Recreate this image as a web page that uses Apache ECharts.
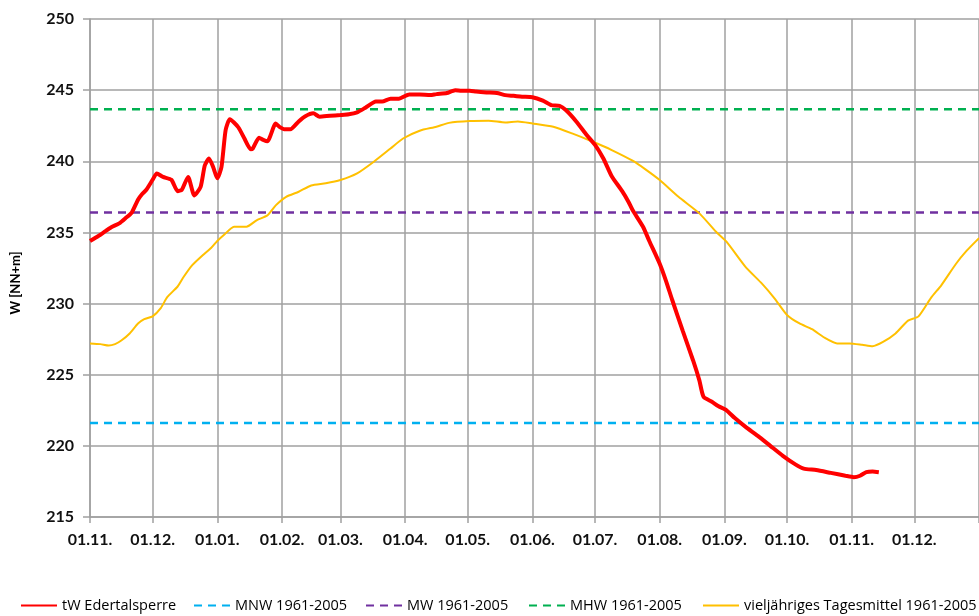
<!DOCTYPE html>
<html>
<head>
<meta charset="utf-8">
<script src="https://cdn.jsdelivr.net/npm/echarts@6/dist/echarts.min.js"></script>
<style>html,body{margin:0;padding:0;background:#fff}#c{width:979px;height:616px}</style>
</head>
<body>
<div id="c"></div>
<script>
// Month sequence on the x axis (starting 01.11.)
const monthNumbers = [11, 12, 1, 2, 3, 4, 5, 6, 7, 8, 9, 10, 11, 12];
const monthLengths = [30, 31, 31, 28, 31, 30, 31, 30, 31, 31, 30, 31, 30, 31];
const endLabel = "01.01.";

// y axis ticks
const yMin = 215, yMax = 250, yStep = 5;

// tW Edertalsperre: [day index from 01.11., value]
const redSeries = [
  [0,234.4],[4,234.75],[7,235.05],[10,235.35],[13.5,235.64],[17,236.0],[20,236.4],[23,237.3],[25,237.7],[27,238.0],
  [29.5,238.7],[32,239.15],[35,238.9],[39,238.7],[42,237.9],[44,238.0],[47,238.9],[50,237.6],[52.6,238.2],[55,239.7],
  [57,240.2],[59,239.6],[61.4,238.8],[63,239.6],[65.4,242.2],[67.3,242.95],[71,242.4],[74,241.6],[76.5,240.85],[78,240.9],
  [80.5,241.65],[83,241.5],[85,241.4],[88.5,242.65],[91,242.4],[93,242.25],[95.6,242.25],[99.6,242.8],[103,243.15],[107,243.37],
  [110,243.13],[115,243.2],[119.6,243.25],[124,243.3],[127.5,243.44],[132,243.77],[137,244.2],[140,244.2],[143.5,244.4],[148,244.4],
  [153,244.7],[158,244.7],[162.6,244.65],[166,244.72],[170.6,244.8],[175,245.0],[178,244.95],[181.7,244.96],[185,244.9],[189.7,244.84],
  [194.5,244.8],[199,244.65],[203,244.6],[207,244.54],[212,244.5],[216.8,244.26],[220.8,243.95],[224.8,243.9],[228,243.6],[232.8,242.8],
  [237.5,241.85],[241.5,241.15],[245.5,240.2],[250,238.95],[255,237.9],[258,237.16],[260,236.57],[264.6,235.4],[268,234.4],[272.6,232.8],
  [276,231.6],[279,230.25],[283.7,228.1],[288.5,226.0],[291.7,224.6],[294,223.45],[298,223.1],[301,222.8],[304.5,222.5],[309,221.95],
  [314,221.35],[320,220.7],[326,220.0],[332,219.3],[338,218.7],[342,218.4],[348,218.3],[355,218.1],[362,217.9],[366,217.8],
  [369,217.9],[372,218.15],[375,218.2],[378,218.15]
];

// vieljähriges Tagesmittel 1961-2005
const yellowSeries = [
  [0,227.2],[4.8,227.15],[8.6,227.05],[12,227.15],[15,227.4],[19,227.9],[23,228.6],[26,228.9],[30,229.1],[33.5,229.7],
  [37,230.45],[41.6,231.2],[45,231.9],[49,232.7],[54,233.4],[58,233.9],[61,234.4],[64,234.8],[68.5,235.4],[75,235.4],
  [80,235.87],[84.5,236.2],[89,236.9],[94,237.5],[100,237.86],[106,238.3],[113,238.45],[119.6,238.68],[127.5,239.15],[135.5,239.97],
  [143.5,240.9],[150,241.6],[158,242.15],[166,242.43],[172,242.7],[181.7,242.83],[191,242.85],[199,242.73],[205,242.8],[212,242.66],
  [221.6,242.43],[231,241.96],[240.7,241.37],[250,240.79],[260,240.04],[266,239.45],[272.6,238.68],[282,237.5],[291.7,236.34],[299.7,235.05],
  [304.5,234.35],[314,232.6],[322,231.4],[328.4,230.37],[334,229.2],[340,228.6],[346,228.2],[352,227.6],[358,227.2],[364,227.2],
  [370,227.1],[375,227.0],[380,227.3],[386,227.9],[392,228.8],[397,229.1],[403,230.4],[408,231.3],[414.5,232.8],[420,233.7],
  [426,234.6]
];

// Long-term characteristic levels
const mnwLevel = 221.6;
const mwLevel = 236.4;
const mhwLevel = 243.65;

const seriesNames = ["tW Edertalsperre", "MNW 1961-2005", "MW 1961-2005", "MHW 1961-2005", "vieljähriges Tagesmittel 1961-2005"];

// build categories (one per day)
const categories = [];
monthNumbers.forEach((m, i) => {
  const mm = (m < 10 ? "0" : "") + m;
  for (let d = 1; d <= monthLengths[i]; d++) {
    categories.push((d < 10 ? "0" : "") + d + "." + mm + ".");
  }
});
categories.push(endLabel);
const lastIdx = categories.length - 1;

const isMonthStart = (idx) => categories[idx].startsWith("01.");

const chart = echarts.init(document.getElementById('c'), null, {renderer: 'canvas'});
const font = 'Lato, "Open Sans", sans-serif';
const legendFont = '"Open Sans", Lato, sans-serif';

function levelLine(v) { return [[0, v], [lastIdx, v]]; }

const legendTop = 598;
function mkLegend(name, left, w) {
  return {
    data: [name], left: left, top: legendTop, itemWidth: w, itemHeight: 14, itemGap: 5,
    padding: 0,
    itemStyle: {opacity: 0},
    textStyle: {fontFamily: legendFont, fontSize: 14.5, color: '#000'}, selectedMode: false
  };
}

chart.setOption({
  animation: false,
  backgroundColor: '#fff',
  grid: {left: 90, right: 0, top: 19, bottom: 99, containLabel: false},
  legend: [
    mkLegend(seriesNames[0], 20, 36),
    mkLegend(seriesNames[1], 193, 36),
    mkLegend(seriesNames[2], 365, 36),
    mkLegend(seriesNames[3], 528, 36),
    mkLegend(seriesNames[4], 702, 36)
  ],
  xAxis: {
    type: 'category',
    data: categories,
    boundaryGap: false,
    axisLine: {show: true, lineStyle: {color: '#a0a0a0', width: 1.5}},
    axisTick: {show: true, length: 6, interval: (i) => isMonthStart(i), lineStyle: {color: '#a0a0a0', width: 1.5}},
    axisLabel: {
      show: true, interval: (i) => isMonthStart(i) && i !== lastIdx, margin: 15,
      fontFamily: font, fontSize: 16, fontWeight: 'bold', color: '#111'
    },
    splitLine: {show: true, interval: (i) => isMonthStart(i), lineStyle: {color: '#a0a0a0', width: 1.5}}
  },
  yAxis: {
    type: 'value', min: yMin, max: yMax, interval: yStep,
    name: 'W [NN+m]', nameLocation: 'middle', nameGap: 68, nameRotate: 90,
    nameTextStyle: {fontFamily: font, fontSize: 13, fontWeight: 'bold', color: '#000', padding: [0, 0, 0, -30]},
    axisLine: {show: true, lineStyle: {color: '#a0a0a0', width: 1.5}},
    axisTick: {show: true, length: 7, lineStyle: {color: '#a0a0a0', width: 1.5}},
    axisLabel: {margin: 16, fontFamily: font, fontSize: 16, fontWeight: 'bold', color: '#111'},
    splitLine: {show: true, lineStyle: {color: '#a0a0a0', width: 1.5}}
  },
  series: [
    {name: seriesNames[1], type: 'line', symbol: 'none', data: levelLine(mnwLevel), z: 3,
     lineStyle: {color: '#00b0f0', width: 2.5, type: [8, 6]}, itemStyle: {color: '#00b0f0'}},
    {name: seriesNames[2], type: 'line', symbol: 'none', data: levelLine(mwLevel), z: 3,
     lineStyle: {color: '#7030a0', width: 2.5, type: [8, 6]}, itemStyle: {color: '#7030a0'}},
    {name: seriesNames[3], type: 'line', symbol: 'none', data: levelLine(mhwLevel), z: 3,
     lineStyle: {color: '#00b050', width: 2.5, type: [8, 6]}, itemStyle: {color: '#00b050'}},
    {name: seriesNames[4], type: 'line', symbol: 'none', data: yellowSeries, z: 4, smooth: 0.2,
     lineStyle: {color: '#ffc000', width: 2}, itemStyle: {color: '#ffc000'}},
    {name: seriesNames[0], type: 'line', symbol: 'none', data: redSeries, z: 5, smooth: 0.2,
     lineStyle: {color: '#ff0000', width: 4}, itemStyle: {color: '#ff0000'}}
  ]
});
</script>
</body>
</html>
